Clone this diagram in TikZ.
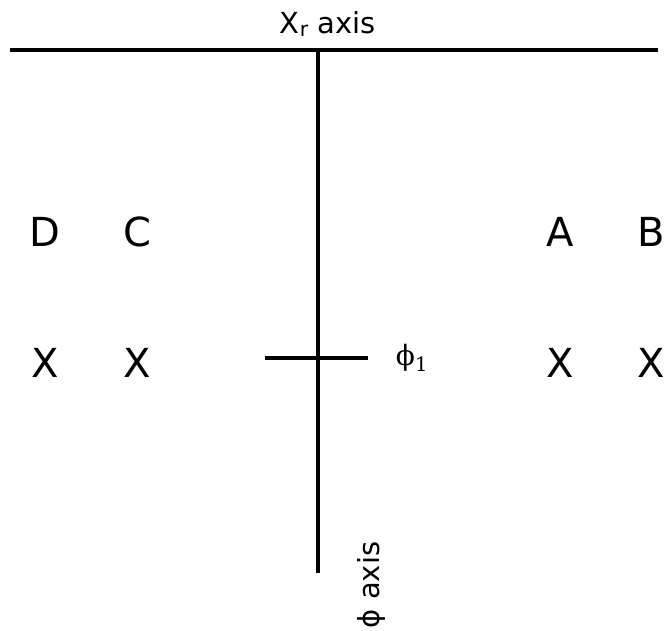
\documentclass[tikz,border=0pt]{standalone}
\usepackage{fontspec}
\setmainfont{DejaVu Sans}
\newfontfamily\serifphi{DejaVu Serif}
\begin{document}
\begin{tikzpicture}[x=1pt,y=-1pt,
  axisline/.style={line width=4.5pt,black},
  bigl/.style={font=\fontsize{40}{44}\selectfont,inner sep=0pt},
  lab/.style={font=\fontsize{29}{33}\selectfont,inner sep=0pt}]
\useasboundingbox (0,0) rectangle (669,630);
\coordinate (hl) at (10,50);
\coordinate (hr) at (658,50);
\coordinate (vt) at (318,50);
\coordinate (vb) at (318,573);
\coordinate (tl) at (265,358);
\coordinate (tr) at (368,358);
\draw[axisline] (hl) -- (hr);
\draw[axisline] (vt) -- (vb);
\draw[axisline] (tl) -- (tr);
\node[lab] (xr) at (328,24) {X\textsubscript{r} axis};
\node[lab,font=\serifphi\fontsize{28}{32}\selectfont] (phi1) at (412,358) {ϕ\textsubscript{1}};
\node[lab,rotate=90] (phiax) at (371,585) {ϕ axis};
\node[bigl] (D) at (45,232) {D};
\node[bigl] (C) at (137,232) {C};
\node[bigl] (A) at (560,232) {A};
\node[bigl] (B) at (651,232) {B};
\node[bigl] (x1) at (45,363) {X};
\node[bigl] (x2) at (137,363) {X};
\node[bigl] (x3) at (560,363) {X};
\node[bigl] (x4) at (651,363) {X};
\end{tikzpicture}
\end{document}
